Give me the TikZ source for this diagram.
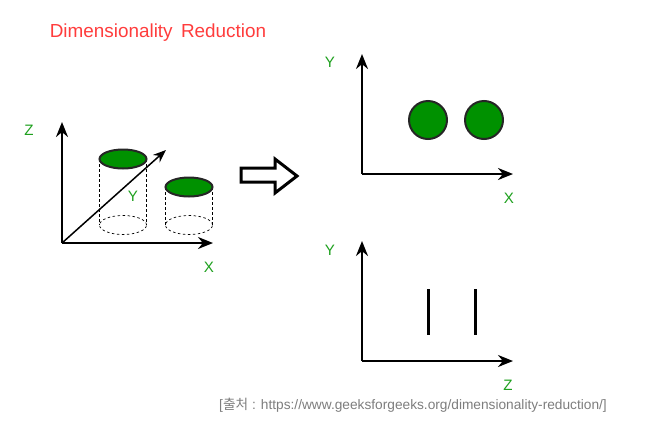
\documentclass[tikz,border=0pt]{standalone}
\usepackage{fontspec}
\usepackage{xcolor}
\setmainfont{Liberation Sans}
\newfontfamily\krfont{Noto Sans CJK KR}
\definecolor{discgreen}{RGB}{0,145,0}
\definecolor{labelgreen}{RGB}{30,160,30}
\definecolor{titlered}{RGB}{255,60,60}
\definecolor{sourcegray}{RGB}{125,125,125}
\usetikzlibrary{arrows.meta}
\tikzset{
	axis/.style={black,line width=0.045cm,-{Stealth[length=0.3cm,width=0.24cm]}},
	axisthin/.style={black,line width=0.03cm,-{Stealth[length=0.26cm,width=0.2cm]}},
	disc/.style={draw=black!85,fill=discgreen,line width=0.04cm},
	hidden/.style={black,dashed,line width=0.014cm,dash pattern=on 0.05cm off 0.05cm},
	axislabel/.style={text=labelgreen,font=\fontsize{8.6pt}{10pt}\selectfont,inner sep=0pt},
}
\begin{document}
\begin{tikzpicture}
	\useasboundingbox (0,0) rectangle (13.34,8.56);
	\node[text=titlered,font=\fontsize{10.75pt}{12pt}\selectfont,inner sep=0pt] (title) at(3.16,7.9) {Dimensionality\, Reduction};
	% left axes
	\coordinate (xyzo) at(1.24,3.7);
	\coordinate (xyzz) at(1.24,6.12);
	\coordinate (xyzx) at(4.26,3.7);
	\coordinate (xyzy) at(3.32,5.56);
	\draw[axis] (xyzo)--(xyzz);
	\draw[axis] (xyzo)--(xyzx);
	\draw[axisthin] (xyzo)--(xyzy);
	\node[axislabel] (labz) at(0.58,5.96) {Z};
	\node[axislabel] (labx) at(4.18,3.22) {X};
	\node[axislabel] (laby) at(2.66,4.64) {Y};
	% cylinders
	\draw[hidden] (2.46,4.06) ellipse (0.47 and 0.19);
	\draw[hidden] (3.78,4.06) ellipse (0.47 and 0.19);
	\draw[hidden] (1.99,5.38)--(1.99,4.06);
	\draw[hidden] (2.93,5.38)--(2.93,4.06);
	\draw[hidden] (3.31,4.82)--(3.31,4.06);
	\draw[hidden] (4.25,4.82)--(4.25,4.06);
	\draw[disc] (2.46,5.38) ellipse (0.47 and 0.19);
	\draw[disc] (3.78,4.82) ellipse (0.47 and 0.19);
	% block arrow
	\draw[black,line width=0.06cm,miter limit=10,fill=white] (4.82,5.2)--(5.5,5.2)--(5.5,5.38)--(5.94,5.04)--(5.5,4.7)--(5.5,4.92)--(4.82,4.92)--cycle;
	% top right axes
	\coordinate (xyo) at(7.24,5.08);
	\coordinate (xyy) at(7.24,7.48);
	\coordinate (xyx) at(10.26,5.08);
	\draw[axis] (xyo)--(xyy);
	\draw[axis] (xyo)--(xyx);
	\draw[disc] (8.56,6.16) circle (0.38);
	\draw[disc] (9.68,6.16) circle (0.38);
	\node[axislabel] (labya) at(6.6,7.32) {Y};
	\node[axislabel] (labxa) at(10.18,4.6) {X};
	% bottom right axes
	\coordinate (zyo) at(7.24,1.34);
	\coordinate (zyy) at(7.24,3.74);
	\coordinate (zyz) at(10.26,1.34);
	\draw[axis] (zyo)--(zyy);
	\draw[axis] (zyo)--(zyz);
	\draw[black,line width=0.06cm] (8.56,2.78)--(8.56,1.86);
	\draw[black,line width=0.06cm] (9.5,2.78)--(9.5,1.86);
	\node[axislabel] (labyb) at(6.6,3.56) {Y};
	\node[axislabel] (labzb) at(10.16,0.86) {Z};
	\node[text=sourcegray,font=\fontsize{7.8pt}{9pt}\selectfont,inner sep=0pt] (source) at(8.26,0.45) {[{\krfont 출처} : https://www.geeksforgeeks.org/dimensionality-reduction/]};
\end{tikzpicture}
\end{document}
